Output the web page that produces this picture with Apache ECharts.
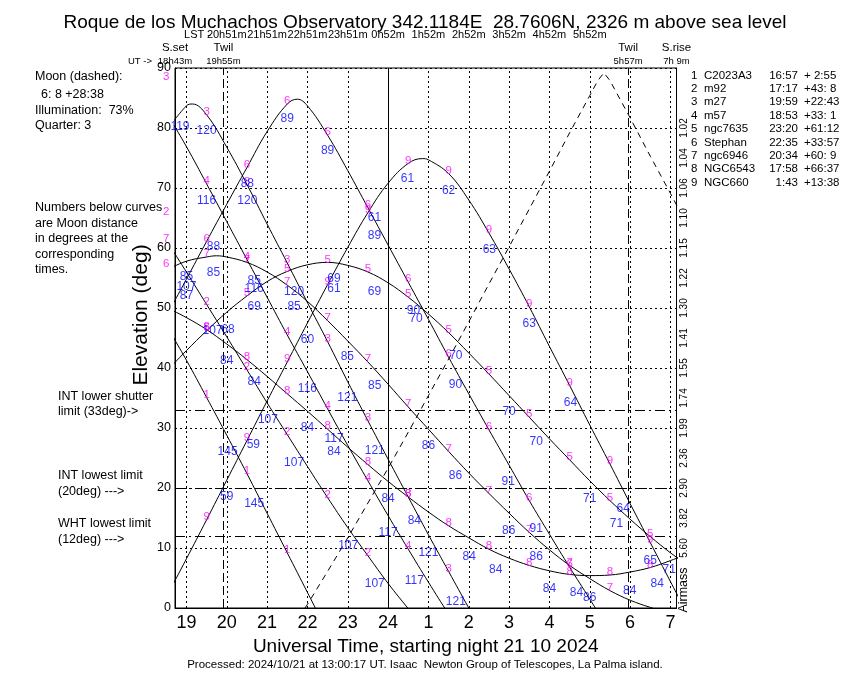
<!DOCTYPE html>
<html>
<head>
<meta charset="utf-8">
<title>Roque de los Muchachos - object visibility</title>
<script src="https://cdn.jsdelivr.net/npm/echarts@6/dist/echarts.min.js"></script>
<style>
  html, body { margin: 0; padding: 0; background: #fff; }
  #chart { width: 850px; height: 680px; }
</style>
</head>
<body>
<div id="chart"></div>
<script>
// sample times in UT hours (values above 24 are after midnight)
var times = [18.5, 19, 19.5, 20, 20.5, 21, 21.5, 22, 22.5, 23, 23.5, 24, 24.5,
  25, 25.5, 26, 26.5, 27, 27.5, 28, 28.5, 29, 29.5, 30, 30.5, 31, 31.5];

// elevation (deg) of each object at those times
var alt1 = [47.1, 41.3, 35.1, 28.8, 22.4, 15.8, 9.2, 2.6, -4.0];
var alt2 = [61.3, 56.0, 50.6, 45.2, 39.7, 34.2, 28.9, 23.6, 18.4, 13.4, 8.7, 4.1, -0.1, -4.1];
var alt3 = [79.5, 83.7, 82.2, 76.8, 70.6, 64.0, 57.5, 50.9, 44.4, 37.7, 31.2, 24.8, 18.5, 12.2, 6.1, 0.0, -6.0];
var alt4 = [82.6, 76.9, 70.7, 64.4, 58.1, 51.8, 45.5, 39.4, 33.2, 27.1, 21.2, 15.4, 9.8, 4.3, -1.0, -6.0];
var alt5 = [39.4, 42.9, 46.2, 49.3, 52.0, 54.4, 56.1, 57.2, 57.6, 57.1, 56.0, 54.2, 51.8, 49.0, 45.9,
  42.5, 39.0, 35.4, 31.8, 28.2, 24.7, 21.2, 17.9, 14.8, 11.9, 9.2, 6.8];
var alt6 = [48.6, 54.8, 61.1, 67.3, 73.4, 79.4, 84.0, 83.7, 78.8, 72.9, 66.7, 60.5, 54.3, 48.1, 41.8,
  35.7, 29.7, 23.8, 17.9, 12.3, 6.8, 1.5, -4.0];
var alt7 = [56.3, 57.8, 58.5, 58.5, 57.6, 56.0, 53.8, 51.1, 47.9, 44.5, 41.0, 37.3, 33.5, 29.8, 26.1,
  22.5, 19.1, 15.8, 12.6, 9.7, 7.1, 4.9, 2.9, 1.3, 0.1, -0.9, -1.5];
var alt8 = [50.1, 48.4, 46.4, 44.0, 41.4, 38.6, 35.7, 32.8, 29.8, 26.8, 23.9, 21.1, 18.5, 16.0, 13.7,
  11.7, 9.8, 8.3, 7.1, 6.2, 5.6, 5.4, 5.5, 6.0, 6.75, 7.9, 9.2];
var alt9 = [1.8, 8.2, 14.7, 21.3, 27.9, 34.5, 41.0, 47.5, 53.9, 60.1, 65.9, 70.8, 74.1, 74.7, 72.4,
  68.0, 62.5, 56.5, 50.2, 43.6, 37.1, 30.5, 24.0, 17.4, 10.9, 4.4, -2.0];

// culmination points (object number: [time, elevation])
var peaks = { 3: [19.15, 84.0], 6: [21.75, 84.8], 7: [19.75, 58.7], 9: [24.85, 74.9] };

// moon (dashed)
var moonTimes = [21.94, 22, 22.5, 23, 23.5, 24, 24.5, 25, 25.5, 26, 26.5, 27, 27.5, 28, 28.5,
  29, 29.2, 29.35, 29.5, 30, 30.5, 31, 31.5];
var moonAlt = [0, 0.6, 6.1, 11.7, 17.5, 23.3, 29.3, 35.4, 41.5, 47.7, 54.0, 60.2, 66.5, 72.8, 79.2,
  85.4, 87.9, 89.2, 87.9, 81.7, 75.3, 69.1, 62.7];

// axis labels
var hourTicks = [19, 20, 21, 22, 23, 24, 25, 26, 27, 28, 29, 30, 31];
var hourLabels = ["19", "20", "21", "22", "23", "24", "1", "2", "3", "4", "5", "6", "7"];
var lstTicks = [20, 21, 22, 23, 24, 25, 26, 27, 28, 29];
var lstLabels = ["20h51m", "21h51m", "22h51m", "23h51m", "0h52m", "1h52m", "2h52m", "3h52m", "4h52m", "5h52m"];
var sunTimes = [18.717, 19.917, 29.95, 31.15];
var sunNames = ["S.set", "Twil", "Twil", "S.rise"];
var sunUT = ["18h43m", "19h55m", "5h57m", "7h 9m"];
var twilight = [19.917, 29.95];
var limitLines = [33, 20, 12];
var airmassTicks = [10, 15, 20, 25, 30, 35, 40, 45, 50, 55, 60, 65, 70, 75, 80];
var airmassLabels = ["5.60", "3.82", "2.90", "2.36", "1.99", "1.74", "1.55", "1.41", "1.30",
  "1.22", "1.15", "1.10", "1.06", "1.04", "1.02"];

// object list
var objNames = ["C2023A3", "m92", "m27", "m57", "ngc7635", "Stephan", "ngc6946", "NGC6543", "NGC660"];
var objRA = ["16:57", "17:17", "19:59", "18:53", "23:20", "22:35", "20:34", "17:58", "1:43"];
var objDec = ["+ 2:55", "+43: 8", "+22:43", "+33: 1", "+61:12", "+33:57", "+60: 9", "+66:37", "+13:38"];

// moon distance numbers: [time, elevation, text]
var blueLabels = [
  [18.84, 80.2, "119"], [19.5, 79.6, "120"], [21.5, 81.6, "89"], [22.5, 76.3, "89"],
  [20.51, 70.7, "88"], [19.5, 67.95, "116"], [20.51, 67.95, "120"], [24.48, 71.6, "61"],
  [23.66, 65.0, "61"], [23.66, 62.1, "89"], [19.67, 60.3, "88"], [19.67, 55.9, "85"],
  [19.0, 55.2, "85"], [19.0, 53.6, "107"], [19.0, 52.1, "87"], [20.68, 54.6, "85"],
  [20.68, 53.3, "116"], [20.68, 50.2, "69"], [22.66, 54.9, "69"], [22.66, 53.3, "61"],
  [21.67, 52.7, "120"], [23.66, 52.8, "69"], [21.67, 50.3, "85"], [24.63, 49.6, "90"],
  [24.69, 48.2, "70"], [19.65, 46.3, "107"], [20.03, 46.4, "68"], [22.0, 44.8, "60"],
  [20.0, 41.3, "84"], [22.99, 41.95, "85"], [20.68, 37.7, "84"], [22.0, 36.6, "116"],
  [23.67, 37.1, "85"], [22.99, 35.0, "121"], [21.02, 31.4, "107"], [22.0, 30.0, "84"],
  [22.66, 28.2, "117"], [20.66, 27.3, "59"], [20.02, 26.0, "145"], [22.66, 26.0, "84"],
  [23.67, 26.3, "121"], [21.67, 24.2, "107"], [20.0, 18.5, "59"], [24.0, 18.2, "84"],
  [20.68, 17.4, "145"], [24.65, 14.6, "84"], [24.0, 12.5, "117"], [23.01, 10.45, "107"],
  [23.67, 4.1, "107"], [24.65, 4.6, "117"], [25.68, 42.1, "70"], [25.67, 37.2, "90"],
  [27.0, 32.7, "70"], [28.52, 34.3, "64"], [27.67, 27.8, "70"], [25.0, 27.0, "86"],
  [25.67, 22.0, "86"], [26.98, 21.0, "91"], [29.0, 18.3, "71"], [29.83, 16.6, "64"],
  [29.66, 14.1, "71"], [26.99, 12.95, "86"], [27.67, 13.2, "91"], [25.0, 9.3, "121"],
  [26.01, 8.6, "84"], [27.67, 8.6, "86"], [30.5, 7.95, "65"], [30.97, 6.4, "71"],
  [26.67, 6.4, "84"], [25.68, 1.0, "121"], [30.67, 4.1, "84"], [28.0, 3.2, "84"],
  [28.67, 2.5, "84"], [29.0, 1.8, "86"], [29.99, 2.95, "84"], [25.5, 69.6, "62"],
  [26.51, 59.8, "63"], [27.5, 47.4, "63"]
];

// object numbers drawn left of the frame (before sunset)
var leftLabels = [[18.5, 88.1, "3"], [18.5, 65.5, "2"], [18.5, 61.0, "7"], [18.5, 56.9, "6"]];

var objects = [alt1, alt2, alt3, alt4, alt5, alt6, alt7, alt8, alt9];
var FONT = "Liberation Sans";

var chartDom = document.getElementById("chart");
var myChart = echarts.init(chartDom, null, { renderer: "canvas" });

var series = [];

// elevation curves
objects.forEach(function (alts, k) {
  var pts = alts.map(function (a, i) { return [times[i], a]; });
  var pk = peaks[k + 1];
  if (pk) {
    pts.push([pk[0], pk[1]]);
    pts.sort(function (p, q) { return p[0] - q[0]; });
  }
  series.push({
    type: "line",
    data: pts,
    smooth: 0.4,
    showSymbol: false,
    silent: true,
    lineStyle: { color: "#000", width: 1 },
    z: 3
  });
});

// moon
series.push({
  type: "line",
  data: moonAlt.map(function (a, i) { return [moonTimes[i], a]; }),
  showSymbol: false,
  silent: true,
  lineStyle: { color: "#000", width: 1, type: [6, 5] },
  z: 3
});

// grid lines: hours, twilight, midnight, limits
var markData = [];
hourTicks.forEach(function (h) {
  if (h !== 24) markData.push({ xAxis: h, lineStyle: { type: [2, 3], color: "#000", width: 1 } });
});
markData.push({ xAxis: 24, lineStyle: { type: "solid", color: "#000", width: 1 } });
twilight.forEach(function (t) {
  markData.push({ xAxis: t, lineStyle: { type: [9, 4], color: "#000", width: 1 } });
});
limitLines.forEach(function (v) {
  markData.push({ yAxis: v, lineStyle: { type: [10, 4, 2, 4], color: "#000", width: 1 } });
});
series.push({
  type: "line",
  data: [],
  silent: true,
  markLine: {
    symbol: ["none", "none"],
    silent: true,
    animation: false,
    label: { show: false },
    data: markData
  },
  z: 2
});

// object numbers along curves
var magentaData = [];
objects.forEach(function (alts, k) {
  alts.forEach(function (a, i) {
    var t = times[i];
    if (t >= 19 && t <= 31 && t % 1 === 0.5 && a >= 1) {
      magentaData.push({ value: [t, a], name: String(k + 1) });
    }
  });
});
leftLabels.forEach(function (l) {
  magentaData.push({ value: [l[0], l[1]], name: l[2] });
});
series.push({
  type: "scatter",
  data: magentaData,
  symbolSize: 1,
  clip: false,
  silent: true,
  itemStyle: { color: "rgba(0,0,0,0)" },
  label: {
    show: true, position: "inside", formatter: "{b}",
    color: "#ff00ff", fontSize: 11.5, fontFamily: FONT, offset: [0, -3]
  },
  z: 5
});

// moon distances
series.push({
  type: "scatter",
  data: blueLabels.map(function (b) { return { value: [b[0], b[1]], name: b[2] }; }),
  symbolSize: 1,
  clip: false,
  silent: true,
  itemStyle: { color: "rgba(0,0,0,0)" },
  label: {
    show: true, position: "inside", formatter: "{b}",
    color: "#0000ff", fontSize: 12, fontFamily: FONT
  },
  z: 5
});

// texts around the frame
var graphics = [];
function txt(x, y, s, size, align, rot) {
  graphics.push({
    type: "text", x: x, y: y, rotation: rot || 0, silent: true,
    style: {
      text: s, fill: "#000", font: size + "px " + FONT,
      align: align || "left", verticalAlign: "middle"
    }
  });
}
txt(35, 77, "Moon (dashed):", 12.5);
txt(41, 95, "6: 8 +28:38", 12.5);
txt(35, 111, "Illumination:  73%", 12.5);
txt(35, 126, "Quarter: 3", 12.5);
txt(35, 208, "Numbers below curves", 12.5);
txt(35, 224, "are Moon distance", 12.5);
txt(35, 239, "in degrees at the", 12.5);
txt(35, 255, "corresponding", 12.5);
txt(35, 270, "times.", 12.5);
txt(58, 397, "INT lower shutter", 12.5);
txt(58, 412, "limit (33deg)->", 12.5);
txt(58, 476, "INT lowest limit", 12.5);
txt(58, 492, "(20deg) --->", 12.5);
txt(58, 524, "WHT lowest limit", 12.5);
txt(58, 540, "(12deg) --->", 12.5);
txt(211, 35, "LST -", 11, "right");
txt(152, 61, "UT ->", 9.5, "right");
txt(141, 315, "Elevation (deg)", 21, "center", Math.PI / 2);
txt(684, 590, "Airmass", 12.5, "center", Math.PI / 2);
txt(425, 665, "Processed: 2024/10/21 at 13:00:17 UT. Isaac  Newton Group of Telescopes, La Palma island.", 11.5, "center");
objNames.forEach(function (n, i) {
  var y = 75.5 + i * 13.4;
  txt(691, y, String(i + 1), 11.5);
  txt(704, y, n, 11.5);
  txt(798, y, objRA[i], 11.5, "right");
  txt(804, y, objDec[i], 11.5);
});

var option = {
  animation: false,
  backgroundColor: "#fff",
  textStyle: { fontFamily: FONT, color: "#000" },
  title: {
    text: "Roque de los Muchachos Observatory 342.1184E  28.7606N, 2326 m above sea level",
    left: "center",
    top: 8,
    textStyle: { fontSize: 19, fontWeight: "normal", color: "#000", fontFamily: FONT }
  },
  grid: {
    left: 175, right: 173.5, top: 68, bottom: 72,
    show: true, borderColor: "#000", borderWidth: 1
  },
  xAxis: [
    {
      type: "value", min: 18.717, max: 31.15, position: "bottom",
      axisLine: { show: true, lineStyle: { color: "#000" } },
      axisTick: { show: false, customValues: hourTicks },
      splitLine: { show: false },
      axisLabel: {
        customValues: hourTicks, color: "#000", fontSize: 18, margin: 6,
        formatter: function (v) { return hourLabels[hourTicks.indexOf(v)]; }
      },
      name: "Universal Time, starting night 21 10 2024",
      nameLocation: "middle", nameGap: 19,
      nameTextStyle: { fontSize: 19, color: "#000" }
    },
    {
      type: "value", min: 18.717, max: 31.15, position: "top", offset: 26,
      axisLine: { show: false }, axisTick: { show: false, customValues: lstTicks },
      splitLine: { show: false },
      axisLabel: {
        customValues: lstTicks, color: "#000", fontSize: 11, margin: 2,
        formatter: function (v) { return lstLabels[lstTicks.indexOf(v)]; }
      }
    },
    {
      type: "value", min: 18.717, max: 31.15, position: "top", offset: 0,
      axisLine: { show: false }, axisTick: { show: false, customValues: sunTimes },
      splitLine: { show: false },
      axisLabel: {
        customValues: sunTimes, margin: 0, showMinLabel: true, showMaxLabel: true,
        formatter: function (v) {
          var i = sunTimes.indexOf(v);
          return "{a|" + sunNames[i] + "}\n{b|" + sunUT[i] + "}";
        },
        rich: {
          a: { fontSize: 11.5, lineHeight: 14, color: "#000", fontFamily: FONT },
          b: { fontSize: 9.5, lineHeight: 13, color: "#000", fontFamily: FONT }
        }
      }
    }
  ],
  yAxis: [
    {
      type: "value", min: 0, max: 90, interval: 10, position: "left",
      axisLine: { show: true, lineStyle: { color: "#000" } },
      axisTick: { show: false },
      axisLabel: { color: "#000", fontSize: 12.5, margin: 4 },
      splitLine: { show: true, lineStyle: { color: "#000", type: [2, 3], width: 1 } }
    },
    {
      type: "value", min: 0, max: 90, interval: 5, position: "right",
      axisLine: { show: true, lineStyle: { color: "#000" } },
      axisTick: { show: false },
      splitLine: { show: false },
      axisLabel: {
        rotate: 90, color: "#000", fontSize: 10, margin: 3,
        formatter: function (v) {
          var i = airmassTicks.indexOf(v);
          return i < 0 ? "" : airmassLabels[i];
        }
      }
    }
  ],
  graphic: graphics,
  series: series
};

option && myChart.setOption(option);
</script>
</body>
</html>
